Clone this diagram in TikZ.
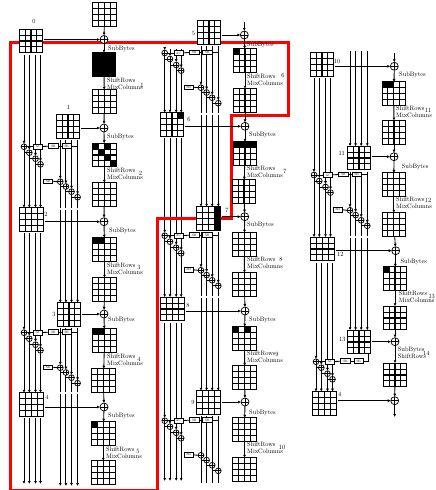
\documentclass[tikz,border=0pt]{standalone}
\usepackage{tikz}
\usepackage{graphicx}
\usetikzlibrary{arrows.meta,calc,backgrounds}
\tikzset{
  state/.style={draw=black, fill=white, line width=1.05pt, minimum size=23.5pt, inner sep=0pt, outer sep=0pt, path picture={
    \foreach \i in {1,2,3} {
      \draw[line width=1.05pt] ($(path picture bounding box.north west)!\i/4!(path picture bounding box.north east)$) -- ($(path picture bounding box.south west)!\i/4!(path picture bounding box.south east)$);
      \draw[line width=1.05pt] ($(path picture bounding box.north west)!\i/4!(path picture bounding box.south west)$) -- ($(path picture bounding box.north east)!\i/4!(path picture bounding box.south east)$);
    }}},
  xorbig/.style={circle, draw=black, fill=white, line width=0.7pt, minimum size=8pt, inner sep=0pt, outer sep=0pt, path picture={
    \draw[line width=0.7pt] (path picture bounding box.north) -- (path picture bounding box.south) (path picture bounding box.west) -- (path picture bounding box.east);}},
  xorsmall/.style={xorbig, minimum size=5.8pt},
  keybox/.style={draw=black, fill=white, line width=0.6pt, minimum width=9.5pt, minimum height=4.8pt, inner sep=0pt, outer sep=0pt},
  arrow/.style={-{Latex[length=3pt,width=3pt]}, line width=0.85pt},
  wordline/.style={line width=0.85pt},
  wordarrow/.style={-{Latex[length=3pt,width=3pt]}, line width=0.85pt},
  lbl/.style={inner sep=0pt, anchor=west},
  num/.style={inner sep=0pt},
  redline/.style={draw=red, line width=3pt}
}
\newcommand\blackcell[3]{\fill[black] ($(#1.north west)+(#2*5.875,#3*5.875)$) rectangle +(5.875,5.875);}
\newcommand\lbltext[1]{\scalebox{0.64}{\renewcommand\arraystretch{0.92}\begin{tabular}{@{}l@{}}#1\end{tabular}}}
\newcommand\boxtext[1]{\scalebox{0.34}{#1}}
\newcommand\keylow[3]{
  \node[keybox] (#1box) at (#2-12.3,#3-0.5) {\boxtext{SB}};
  \node[xorsmall] (#11) at (#2,#3) {};
  \node[xorsmall] (#12) at (#2+5.6,#3+4.8) {};
  \node[xorsmall] (#13) at (#2+11.2,#3+10) {};
  \node[xorsmall] (#14) at (#2+17.3,#3+15.5) {};
  \begin{pgfonlayer}{background}
  \draw[wordline] (#1box.east) -- (#11.west);
  \draw[wordline] (#11) |- (#12) (#12) |- (#13) (#13) |- (#14);
  \end{pgfonlayer}
}
\newcommand\keytop[4]{
  \node[keybox] (#1ac) at (#2+14,#3) {\boxtext{AC}};
  \node[keybox] (#1sb) at (#2+29.5,#3-0.7) {\boxtext{SB}};
  \node[keybox] (#1sr) at (#2+42.7,#3-0.7) {\boxtext{SR}};
  \node[xorsmall] (#11) at (#2,#3) {};
  \node[xorsmall] (#12) at (#2+5.3,#3+6) {};
  \node[xorsmall] (#13) at (#2+11.5,#3+12) {};
  \node[xorsmall] (#14) at (#2+16.5,#3+17.6) {};
  \begin{pgfonlayer}{background}
  \draw[wordline] (#1sr.east) -| (#4);
  \draw[wordline] (#1sr) -- (#1sb);
  \draw[wordline] (#1sb) -- (#1ac);
  \draw[wordline] (#1ac) -- (#11);
  \draw[wordline] (#11) |- (#12) (#12) |- (#13) (#13) |- (#14);
  \end{pgfonlayer}
}
\newcommand\keywords[3]{
  \begin{pgfonlayer}{background}
  \foreach \i in {1,2,3,4} {
    \draw[wordarrow, shorten <=2pt] (#1\i |- #2.south) -- (#1\i.north);
    \draw[wordarrow] (#1\i.south) -- (#1\i |- #3.north);
  }
  \end{pgfonlayer}
}
\begin{document}
\begin{tikzpicture}[x=1pt,y=-1pt]
\useasboundingbox (0,0) rectangle (436,490);
\foreach \n/\x/\y in {m0/104.5/14.5, a1/104/64.5, m1/104.3/101.5, a2/104.3/155, m2/104.3/194.5, a3/104.5/249.5, m3/104.5/289.5, a4/104.5/340.5, m4/103.5/380.5, a5/103.3/433.5, m5/103.3/472.5,
  a6/245/60.5, m6/245/100.5, a7/245/153.7, m7/244/191.5, a8/244.3/244.5, m8/244.5/284.5, a9/244.5/338.5, m9/244.7/377.7, a10/244.5/429.5, m10/244.5/469.5,
  a11/393.8/93.7, m11/394/132.3, a12/393.8/184.7, m12/393.8/224.5, a13/395/278.7, m13/395/318, a14/395/375,
  s0/31/41, s1/68/126.5, s2/31.3/219.5, s3/69/314.5, s4/31.3/404.5, s5/209/32.5, s6/172/124.5, s7/208.5/218.5, s8/172.5/309, s9/208.5/402.5, s10/322/64.3, s11/359/158, s12/322.3/249, s13/359/342, s14/324.7/403.3}
  \node[state] (\n) at (\x,\y) {};
\foreach \n/\x/\y in {x0/104/39.5, x1/104/128, x2/104/221.7, x3/104/314, x4/104/407, x5/244.3/35, x6/245/126.3, x7/244.7/216.7, x8/245/311, x9/245/402, x10/394.3/66.3, x11/394/156.7, x12/395.7/250.7, x13/395/341.7, x14/394.7/400.7}
  \node[xorbig] (\n) at (\x,\y) {};
\foreach \s/\c/\r in {a1/0/0, a1/1/0, a1/2/0, a1/3/0, a1/0/1, a1/1/1, a1/2/1, a1/3/1, a1/0/2, a1/1/2, a1/2/2, a1/3/2, a1/0/3, a1/1/3, a1/2/3, a1/3/3,
  a2/0/0, a2/2/0, a2/1/1, a2/2/2, a2/3/3, a3/0/0, a3/1/0, a4/0/0, a4/1/0, a5/0/0, a6/0/0, s6/3/0, a7/0/0, a7/1/0, a7/2/0, a7/3/0, s7/3/0, s7/3/1, s7/3/2, s7/3/3, a9/0/0, a9/2/0, a11/0/0, a11/1/0, a13/0/0}
  \blackcell{\s}{\c}{\r}
\coordinate (in5) at (244.3,22);
\coordinate (in10) at (394.3,53);
\coordinate (out14) at (394.7,417);
\coordinate (top3) at (175,47);
\coordinate (topR) at (359,51);
\coordinate (endA) at (30,484);
\coordinate (endB) at (68,486);
\coordinate (endC) at (172,481);
\coordinate (endD) at (208,483);
\coordinate (r7end) at (368,353.7);
\keylow{r1b}{60.3}{181.7}
\keytop{r1t}{24}{146.7}{r1b4}
\keylow{r2b}{60.3}{367.7}
\keytop{r2t}{24}{332.7}{r2b4}
\keylow{r3b}{201}{87.7}
\keytop{r3t}{164.7}{53}{r3b4}
\keylow{r4b}{201}{270.3}
\keytop{r4t}{164.7}{235.7}{r4b4}
\keylow{r5b}{201}{455.3}
\keytop{r5t}{164.7}{420.7}{r5b4}
\keylow{r6b}{350}{210.3}
\keytop{r6t}{314}{175}{r6b4}
\keytop{r7t}{316}{361.7}{r7end}
\keywords{r1t}{s0}{s2}
\keywords{r1b}{s1}{s3}
\keywords{r2t}{s2}{s4}
\keywords{r2b}{s3}{endB}
\keywords{r3t}{top3}{s6}
\keywords{r3b}{s5}{s7}
\keywords{r4t}{s6}{s8}
\keywords{r4b}{s7}{s9}
\keywords{r5t}{s8}{endC}
\keywords{r6t}{s10}{s12}
\keywords{r6b}{s11}{s13}
\keywords{r7t}{s12}{s14}
\begin{pgfonlayer}{background}
\foreach \i in {1,2,3,4} {
  \draw[wordarrow, shorten <=2pt] (r2t\i |- s4.south) -- (r2t\i |- endA);
  \draw[wordarrow] (r6b\i |- topR) -- (r6b\i |- s11.north);
  \draw[wordline, shorten <=2pt] (r5b\i |- s9.south) -- (r5b\i.north);
  \draw[wordline] (r5b\i.south) -- (r5b\i |- endD);
}
\foreach \xa/\xb/\ya in {58/79.5/209, 199/220/114, 199/220/297, 348/369.5/237, 58/79.5/393}
  \fill[white] (\xa,\ya-0.8) rectangle (\xb,\ya+0.8);
\draw[redline] (10.5,42) -- (288,42) -- (288,115.7) -- (231.7,115.7) -- (231.7,218.3) -- (157.3,218.3) -- (157.3,490) -- (10.5,490) -- cycle;
\end{pgfonlayer}
\foreach \a/\b in {m0/x0, x0/a1, a1/m1, m1/x1, x1/a2, a2/m2, m2/x2, x2/a3, a3/m3, m3/x3, x3/a4, a4/m4, m4/x4, x4/a5, a5/m5, in5/x5, x5/a6, a6/m6, m6/x6, x6/a7, a7/m7, m7/x7, x7/a8, a8/m8, m8/x8, x8/a9, a9/m9, m9/x9, x9/a10, a10/m10, in10/x10, x10/a11, a11/m11, m11/x11, x11/a12, a12/m12, m12/x12, x12/a13, a13/m13, m13/x13, x13/a14, a14/x14, x14/out14}
  \draw[arrow] (\a) -- (\b);
\foreach \s/\x in {s0/x0, s1/x1, s2/x2, s3/x3, s4/x4, s5/x5, s6/x6, s7/x7, s8/x8, s9/x9, s10/x10, s11/x11, s12/x12, s13/x13, s14/x14}
  \draw[arrow, shorten <=1.5pt] (\s.east |- \x) -- (\x.west);
\foreach \n/\x/\y in {b1/108/49, b2/107/137, b3/109/231, b4/108/320, b5/108/416, b6/247/45, b7/249/135, b8/247/225, b9/249/320, b10/249/413, b11/399/75, b12/401.7/167, b13/400.3/262}
  \node[lbl] (\n) at (\x,\y) {\lbltext{SubBytes}};
\node[lbl] (b14) at (397.7,353.5) {\lbltext{SubBytes\\ShiftRows}};
\foreach \n/\x/\y in {t1/107/85, t2/107/174.5, t3/107/269.5, t4/107/360.5, t5/106/453.5, t6/247/80.5, t7/247/172.5, t8/247/263.5, t9/247/357.5, t10/247/448.5, t11/396/112.7, t12/396/203.7, t13/398.7/297.7}
  \node[lbl] (\n) at (\x,\y) {\lbltext{ShiftRows\\MixColumns}};
\foreach \n/\x/\y/\t in {n1/142/86/1, n2/140.5/174.5/2, n3/139/268/3, n4/139/360/4, n5/138/452/5, n6/283/76/6, n7/285/172/7, n8/281/260/8, n9/277/355/9, n10/282/448/10, n11/428/111/11, n12/428/201/12, n13/431.7/297/13, n14/426.3/354/14,
  k0/34/22/0, k1/68.5/108/1, k2/46/215/2, k3/54/315/3, k4/47/398/4, k5/193.5/34/5, k6/189/120/6, k7/227/211/7, k8/188/306/8, k9/193/403/9, k10/337/62/10, k11/341.7/154/11, k12/340.3/254.7/12, k13/342.3/340/13, k14/338/395/14}
  \node[num] (\n) at (\x,\y) {\lbltext{\t}};
\end{tikzpicture}
\end{document}
